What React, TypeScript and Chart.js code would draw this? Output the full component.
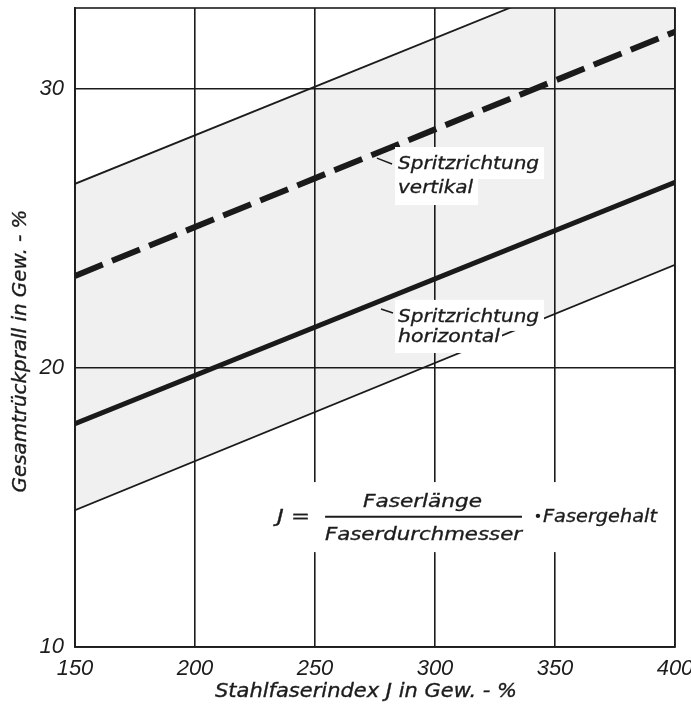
import React, { useEffect, useRef } from "react";
import { Chart, registerables } from "chart.js";

Chart.register(...registerables);

// ---- data ----
const xEnds = [150, 400];
const upperBound = [26.6, 35.3];
const verticalSpray = [23.3, 32.05];
const horizontalSpray = [18.0, 26.65];
const lowerBound = [14.9, 23.7];
const xTicks = [150, 200, 250, 300, 350, 400];
const yTicks = [10, 20, 30];
const yMin = 10;
const yMax = 32.9;

const xTitle = "Stahlfaserindex J in Gew. - %";
const yTitle = "Gesamtrückprall in Gew. - %";
const labelTop = "Spritzrichtung";
const labelVert = "vertikal";
const labelHor = "horizontal";
const fNum = "Faserlänge";
const fDen = "Faserdurchmesser";
const fJ = "J =";
const fTail = "Fasergehalt";

const INK = "#1c1c1c";
const FILL = "rgba(0,0,0,0.06)";
const SANS = "'DejaVu Sans', sans-serif";

const pts = (ys: number[]) => ys.map((y, i) => ({ x: xEnds[i], y }));

// draws text stretched horizontally to the given width (the original lettering is wide)
function fitText(ctx: CanvasRenderingContext2D, text: string, x: number, y: number, width: number, align: "left" | "center" = "left") {
  ctx.save();
  ctx.textAlign = "left";
  const w = ctx.measureText(text).width;
  const startX = align === "center" ? x - width / 2 : x;
  ctx.translate(startX, y);
  ctx.scale(width / w, 1);
  ctx.fillText(text, 0, 0);
  ctx.lineWidth = 0.35;
  ctx.strokeStyle = INK;
  ctx.strokeText(text, 0, 0);
  ctx.restore();
}

const annotPlugin = {
  id: "annot",
  afterDatasetsDraw(chart: any) {
    const { ctx, chartArea: a } = chart;
    const xs = chart.scales.x;
    const ys = chart.scales.y;
    const px = (v: number) => xs.getPixelForValue(v);
    const py = (v: number) => ys.getPixelForValue(v);
    ctx.save();
    ctx.fillStyle = "#ffffff";
    const box = (x0: number, y0: number, x1: number, y1: number) => {
      ctx.fillRect(x0, y0, x1 - x0, y1 - y0);
    };
    const vx = px(284.6);
    const v1 = py(27.13);
    const v2 = py(26.27);
    box(vx - 3, v1 - 22, vx + 146, v1 + 10);
    box(vx - 3, v2 - 22, vx + 80, v2 + 12);
    const h1 = py(21.65);
    const h2 = py(20.93);
    box(vx - 3, h1 - 22, vx + 146, h1 + 9);
    box(vx - 3, h2 - 22, vx + 104, h2 + 11);
    box(px(230.4), py(15.91), px(397.1), py(13.4));

    ctx.fillStyle = INK;
    ctx.textBaseline = "alphabetic";
    ctx.font = `italic 18.5px ${SANS}`;
    fitText(ctx, labelTop, vx, v1, 141);
    fitText(ctx, labelVert, vx, v2, 75);
    fitText(ctx, labelTop, vx, h1, 141);
    fitText(ctx, labelHor, vx, h2, 102);

    ctx.strokeStyle = INK;
    ctx.lineWidth = 1.6;
    ctx.beginPath();
    ctx.moveTo(px(275.8), py(27.52));
    ctx.lineTo(px(282.1), py(27.31));
    ctx.moveTo(px(277.5), py(22.11));
    ctx.lineTo(px(282.5), py(21.97));
    ctx.stroke();

    ctx.font = `italic 18.5px ${SANS}`;
    fitText(ctx, fJ, px(234.2), py(14.48), 33);
    fitText(ctx, fNum, px(294.8), py(15.0), 119, "center");
    fitText(ctx, fDen, px(295.2), py(13.83), 197, "center");
    fitText(ctx, fTail, px(345), py(14.48), 114);
    ctx.lineWidth = 2;
    ctx.beginPath();
    ctx.moveTo(px(254.2), py(14.67));
    ctx.lineTo(px(336.25), py(14.67));
    ctx.stroke();
    ctx.beginPath();
    ctx.arc(px(342.9), py(14.7), 2.2, 0, Math.PI * 2);
    ctx.fill();

    ctx.font = `italic 20px ${SANS}`;
    fitText(ctx, xTitle, 366, 697, 302, "center");
    ctx.save();
    ctx.translate(26, 351);
    ctx.rotate(-Math.PI / 2);
    ctx.font = `italic 19px ${SANS}`;
    fitText(ctx, yTitle, 0, 0, 283, "center");
    ctx.restore();

    ctx.strokeStyle = INK;
    ctx.lineWidth = 1.6;
    ctx.strokeRect(a.left, a.top, a.right - a.left, a.bottom - a.top);
    ctx.restore();
  },
};

export default function App() {
  const ref = useRef<HTMLCanvasElement | null>(null);
  useEffect(() => {
    if (!ref.current) return;
    const tickFont = { family: "'Liberation Sans', sans-serif", style: "italic", size: 22 };
    const chart = new Chart(ref.current, {
      type: "line",
      data: {
        datasets: [
          {
            label: "upper",
            data: pts(upperBound),
            borderColor: INK,
            borderWidth: 1.8,
            pointRadius: 0,
            fill: 3,
            backgroundColor: FILL,
          },
          {
            label: "Spritzrichtung vertikal",
            data: pts(verticalSpray),
            borderColor: INK,
            borderWidth: 6,
            borderDash: [30, 10],
            borderCapStyle: "butt",
            pointRadius: 0,
            fill: false,
          },
          {
            label: "Spritzrichtung horizontal",
            data: pts(horizontalSpray),
            borderColor: INK,
            borderWidth: 5,
            pointRadius: 0,
            fill: false,
          },
          {
            label: "lower",
            data: pts(lowerBound),
            borderColor: INK,
            borderWidth: 1.8,
            pointRadius: 0,
            fill: false,
          },
        ],
      },
      options: {
        responsive: false,
        animation: false,
        devicePixelRatio: 1,
        layout: { padding: { top: 8, right: 16, left: 0, bottom: 0 } },
        plugins: {
          legend: { display: false },
          tooltip: { enabled: false },
        },
        scales: {
          x: {
            type: "linear",
            min: xTicks[0],
            max: xTicks[xTicks.length - 1],
            afterBuildTicks: (s: any) => {
              s.ticks = xTicks.map((v) => ({ value: v }));
            },
            afterFit: (s: any) => {
              s.height = 60;
              s.paddingLeft = 0;
              s.paddingRight = 0;
            },
            grid: { color: INK, lineWidth: 1.6, drawTicks: false },
            border: { display: true, color: INK, width: 1.6 },
            ticks: { padding: 9, color: INK, font: tickFont, maxRotation: 0 },
          },
          y: {
            type: "linear",
            min: yMin,
            max: yMax,
            afterBuildTicks: (s: any) => {
              s.ticks = yTicks.map((v) => ({ value: v }));
            },
            afterFit: (s: any) => {
              s.width = 75;
              s.paddingTop = 0;
              s.paddingBottom = 0;
            },
            grid: { color: INK, lineWidth: 1.6, drawTicks: false },
            border: { display: true, color: INK, width: 1.6 },
            ticks: { padding: 11, color: INK, font: tickFont },
          },
        },
      } as any,
      plugins: [annotPlugin],
    });
    return () => chart.destroy();
  }, []);
  return (
    <div style={{ position: "fixed", left: 0, top: 0, width: 691, height: 707, background: "#fff" }}>
      <canvas ref={ref} width={691} height={707} />
    </div>
  );
}
